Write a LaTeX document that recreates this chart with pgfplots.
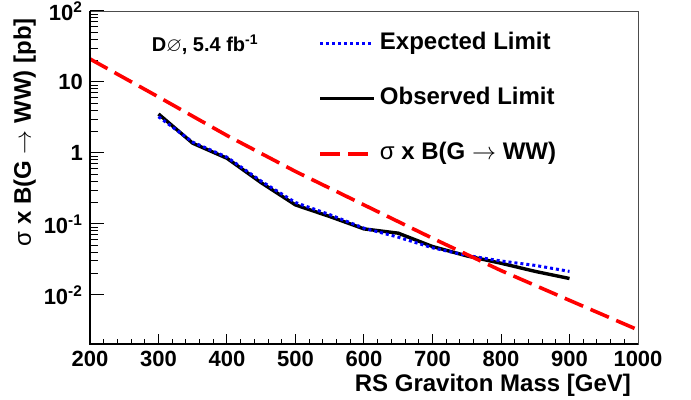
\documentclass[border=0pt]{standalone}
\usepackage{amssymb}
\usepackage{fontspec}
\setmainfont{Liberation Sans}
\usepackage{pgfplots}
\pgfplotsset{compat=1.18}

\begin{document}
\begin{tikzpicture}
% page = axis box plus the margins of the reference
\useasboundingbox (-45pt,-28pt) rectangle (300.5pt,172pt);
\begin{axis}[
    name=ax,
    scale only axis,
    width=274pt, height=166.5pt,
    xmin=200, xmax=1000,
    ymode=log, ymin=0.00203, ymax=100,
    xtick={200,300,...,1000},
    xticklabels={200,300,400,500,600,700,800,900,1000},
    minor x tick num=4,
    ytick={0.01,0.1,1,10,100},
    yticklabels={10\textsuperscript{-2},10\textsuperscript{-1},1,10,10\textsuperscript{2}},
    tick align=inside, tick pos=left,
    major tick length=7pt, minor tick length=4pt,
    xtick style={/pgfplots/major tick length=5pt, /pgfplots/minor tick length=2.5pt},
    tick style={black, line width=0.5pt},
    axis line style={line width=0.4pt, draw=black!70},
    ticklabel style={font=\bfseries\fontsize{11}{13}\selectfont},
    xlabel={RS Graviton Mass [GeV]},
    ylabel={{\mdseries σ} x B(G $\rightarrow$ WW) [pb]},
    label style={font=\bfseries\fontsize{12}{14}\selectfont},
    xlabel style={at={(axis description cs:1,-0.123)}, anchor=east},
    ylabel style={at={(axis description cs:-0.119,1)}, anchor=east},
    legend style={draw=none, fill=none, at={(axis description cs:0.405,0.963)},
        anchor=north west, font=\bfseries\fontsize{12}{14}\selectfont,
        row sep=11.5pt, nodes={text height=9pt, text depth=3pt, inner sep=2pt},
        /tikz/every even column/.append style={column sep=6pt}},
    legend cell align=left,
    legend image code/.code={\draw[#1] (0pt,0pt) -- (27pt,0pt);},
]
% observed limit
\addplot[black, line width=1.7pt, forget plot] coordinates {
    (300,3.54) (350,1.37) (400,0.84) (450,0.38) (500,0.185) (550,0.127)
    (600,0.085) (650,0.074) (700,0.048) (750,0.0354) (800,0.0279)
    (850,0.0214) (900,0.017)
};
% expected limit
\addplot[blue, line width=1.5pt, dash pattern=on 1.5pt off 1.5pt, forget plot] coordinates {
    (300,3.24) (350,1.42) (400,0.87) (450,0.40) (500,0.20) (550,0.135)
    (600,0.087) (650,0.065) (700,0.046) (750,0.036) (800,0.030)
    (850,0.026) (900,0.0214)
};
% theory cross section
\addplot[red, line width=1.8pt, dash pattern=on 10pt off 4pt, forget plot] coordinates {
    (200,21.1) (300,6.15) (400,1.76) (500,0.548) (600,0.185)
    (700,0.0627) (800,0.022) (900,0.00837) (1000,0.00321)
};
\addlegendimage{blue, line width=1.5pt, dash pattern=on 1.5pt off 1.5pt}
\addlegendentry{Expected Limit}
\addlegendimage{black, line width=1.7pt}
\addlegendentry{Observed Limit}
\addlegendimage{red, line width=1.8pt, dash pattern=on 10pt off 4pt}
\addlegendentry{{\mdseries σ} x B(G $\rightarrow$ WW)}

\node[anchor=west, font=\bfseries\fontsize{10}{12}\selectfont]
    at (rel axis cs:0.1,0.898) {D$\varnothing$, 5.4 fb\textsuperscript{-1}};
\end{axis}
\draw[black, line width=1pt] (ax.north west) -- (ax.south west) -- (ax.south east);
\end{tikzpicture}
\end{document}
